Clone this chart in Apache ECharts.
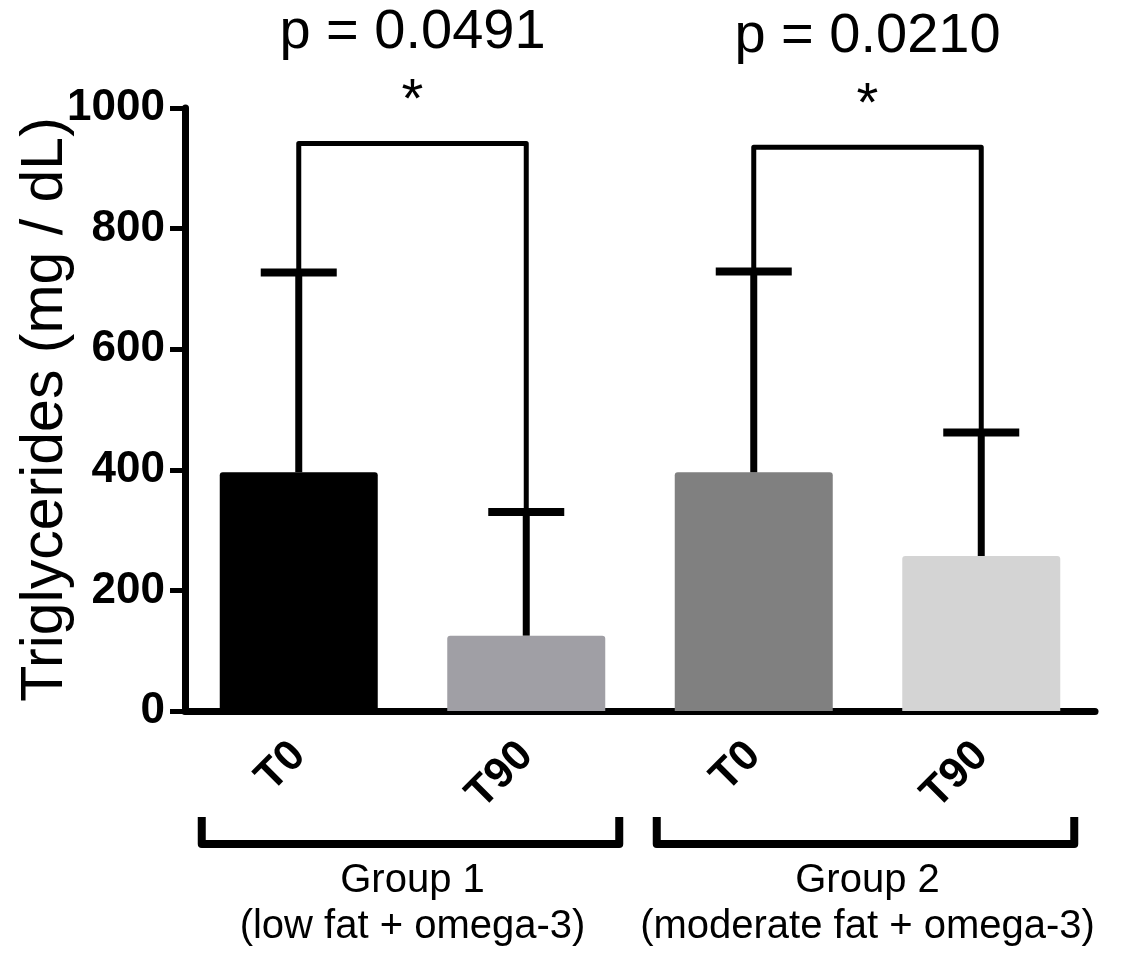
<!DOCTYPE html>
<html>
<head>
<meta charset="utf-8">
<title>Triglycerides</title>
<script src="https://cdn.jsdelivr.net/npm/echarts@6/dist/echarts.min.js"></script>
<style>
  html, body { margin: 0; padding: 0; background: #fff; }
  #chart { width: 1134px; height: 955px; }
</style>
</head>
<body>
<div id="chart"></div>
<script>
// data
const categories = ["T0", "T90", "T0", "T90"];
const means = [396, 125, 396, 257];
const sds = [331, 205, 333, 205];
const barColors = ["#000000", "#a09fa5", "#808080", "#d4d4d4"];
const groupNames = ["Group 1", "Group 2"];
const groupNotes = ["(low fat + omega-3)", "(moderate fat + omega-3)"];
const groupStart = [0, 2];
const groupEnd = [1, 3];
const pLabels = ["p = 0.0491", "p = 0.0210"];
const bracketTops = [941, 935];
const yMin = 0, yMax = 1000, yStep = 200;

const font = "Liberation Sans, Arial, Helvetica, sans-serif";

let chart = echarts.init(document.getElementById("chart"));

let barData = means.map((v, i) => ({ value: v, itemStyle: { color: barColors[i] } }));
let errData = means.map((v, i) => [i, v, v + sds[i]]);
let bracketData = pLabels.map((p, k) => [groupStart[k], groupEnd[k], bracketTops[k]]);
let groupData = groupNames.map((g, k) => [groupStart[k], groupEnd[k], 0]);

chart.setOption({
  animation: false,
  grid: { left: 185, right: 39, top: 108, bottom: 244, outerBoundsMode: "none", containLabel: false },
  xAxis: {
    type: "category",
    data: categories,
    axisLine: { lineStyle: { color: "#000", width: 7 } },
    axisTick: { alignWithLabel: true, length: 17, lineStyle: { color: "#000", width: 5 } },
    axisLabel: {
      interval: 0,
      rotate: 45,
      margin: 38,
      color: "#000",
      fontFamily: font,
      fontWeight: "bold",
      fontSize: 43
    }
  },
  yAxis: {
    type: "value",
    min: yMin,
    max: yMax,
    interval: yStep,
    name: "Triglycerides (mg / dL)",
    nameLocation: "middle",
    nameGap: 110,
    nameMoveOverlap: false,
    nameTextStyle: { color: "#000", fontFamily: font, fontSize: 59 },
    axisLine: { show: true, lineStyle: { color: "#000", width: 7 } },
    axisTick: { show: true, length: 15, lineStyle: { color: "#000", width: 5 } },
    axisLabel: {
      margin: 20,
      color: "#000",
      fontFamily: font,
      fontWeight: "bold",
      fontSize: 44,
      formatter: (v) => String(v)
    },
    splitLine: { show: false }
  },
  series: [
    {
      name: "mean",
      type: "bar",
      barWidth: 158,
      data: barData,
      itemStyle: { borderRadius: [3, 3, 0, 0] },
      z: 2
    },
    {
      name: "sd",
      type: "custom",
      data: errData,
      z: 3,
      renderItem(params, api) {
        let bottom = api.coord([api.value(0), api.value(1)]);
        let top = api.coord([api.value(0), api.value(2)]);
        let half = 38;
        return {
          type: "group",
          children: [
            { type: "line", shape: { x1: bottom[0], y1: bottom[1], x2: top[0], y2: top[1] },
              style: { stroke: "#000", lineWidth: 7 } },
            { type: "line", shape: { x1: top[0] - half, y1: top[1], x2: top[0] + half, y2: top[1] },
              style: { stroke: "#000", lineWidth: 8 } }
          ]
        };
      }
    },
    {
      name: "significance",
      type: "custom",
      data: bracketData,
      clip: false,
      z: 4,
      renderItem(params, api) {
        let i = api.value(0), j = api.value(1);
        let left = api.coord([i, means[i] + sds[i]]);
        let right = api.coord([j, means[j] + sds[j]]);
        let yTop = api.coord([i, api.value(2)])[1];
        let mid = (left[0] + right[0]) / 2;
        return {
          type: "group",
          children: [
            { type: "polyline",
              shape: { points: [[left[0], left[1]], [left[0], yTop], [right[0], yTop], [right[0], right[1]]] },
              style: { stroke: "#000", lineWidth: 5, fill: null, lineJoin: "round" } },
            { type: "text", x: mid, y: yTop - 42,
              style: { text: "*", align: "center", verticalAlign: "middle", fill: "#000", font: "56px " + font } },
            { type: "text", x: mid, y: yTop - 111,
              style: { text: pLabels[params.dataIndex], align: "center", verticalAlign: "middle", fill: "#000", font: "56px " + font } }
          ]
        };
      }
    },
    {
      name: "groups",
      type: "custom",
      data: groupData,
      clip: false,
      z: 4,
      renderItem(params, api) {
        let a = api.coord([api.value(0), 0]);
        let b = api.coord([api.value(1), 0]);
        let y0 = a[1];
        let lx = a[0] - 97, rx = b[0] + 93;
        let mid = (a[0] + b[0]) / 2;
        return {
          type: "group",
          children: [
            { type: "polyline",
              shape: { points: [[lx, y0 + 106], [lx, y0 + 133], [rx, y0 + 133], [rx, y0 + 106]] },
              style: { stroke: "#000", lineWidth: 8, fill: null, lineJoin: "round" } },
            { type: "text", x: mid, y: y0 + 170,
              style: { text: groupNames[params.dataIndex], align: "center", verticalAlign: "middle", fill: "#000", font: "40px " + font } },
            { type: "text", x: mid, y: y0 + 216,
              style: { text: groupNotes[params.dataIndex], align: "center", verticalAlign: "middle", fill: "#000", font: "40px " + font } }
          ]
        };
      }
    }
  ]
});
</script>
</body>
</html>
